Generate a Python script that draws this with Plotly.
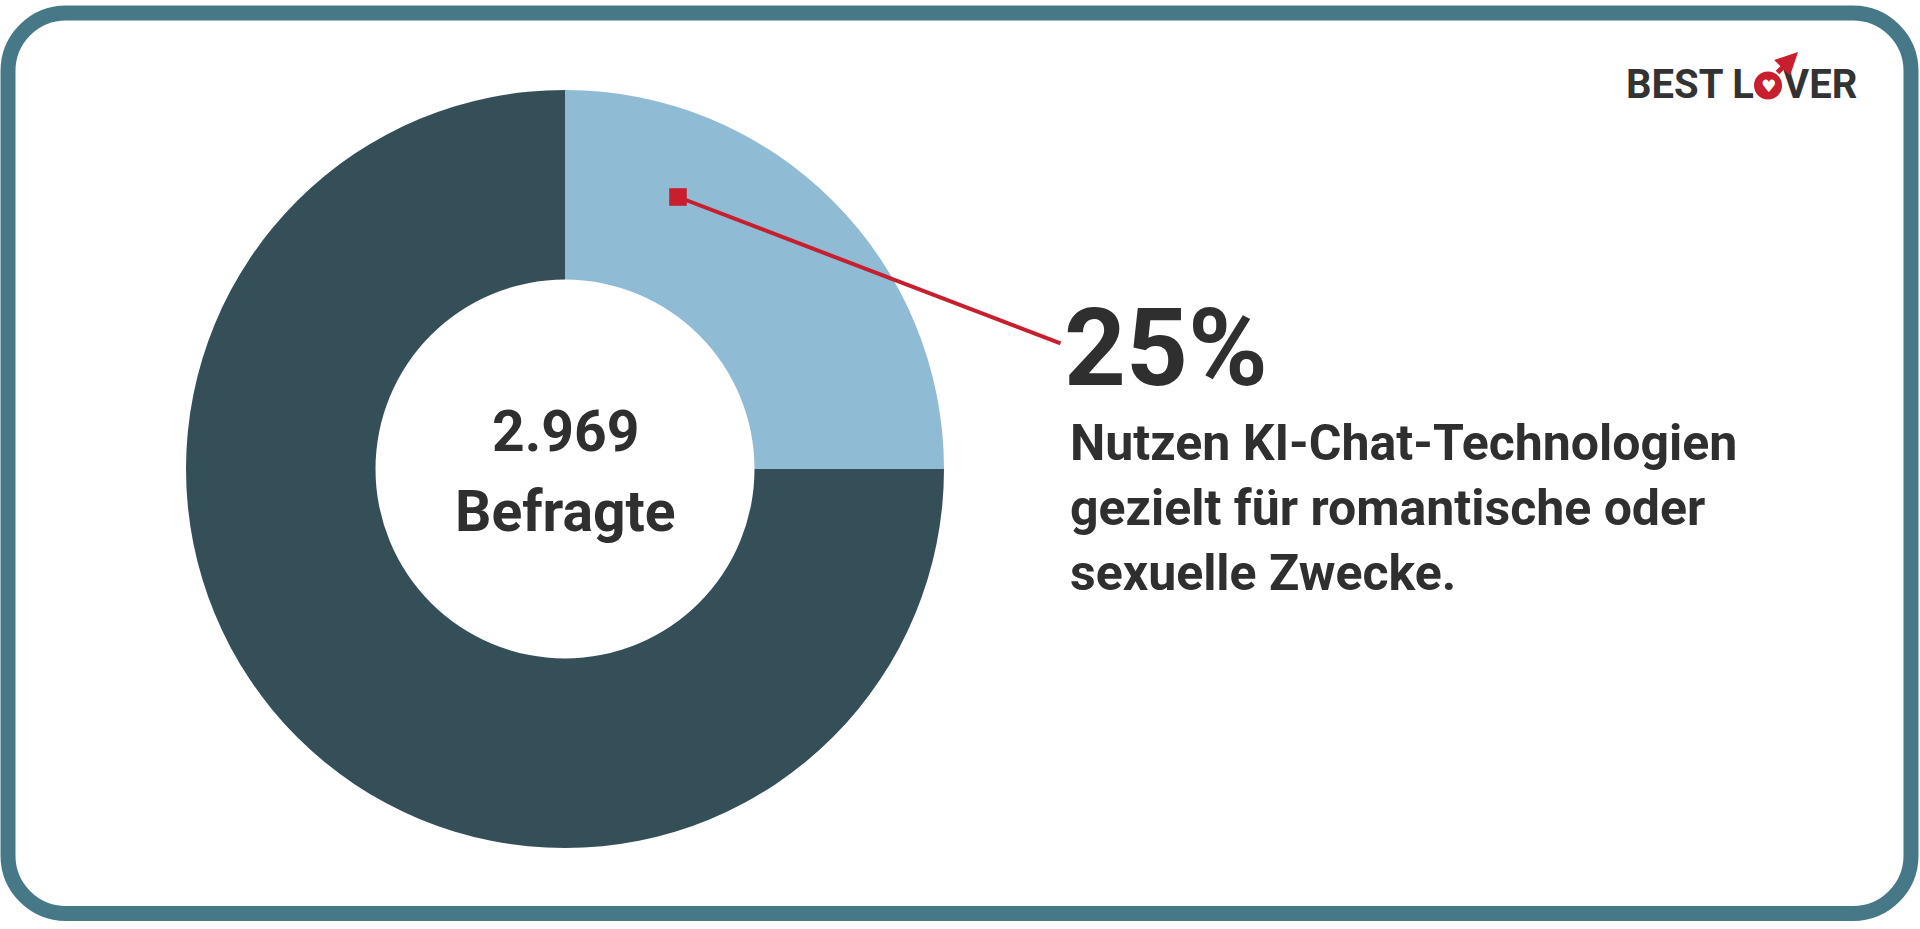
import plotly.graph_objects as go

W, H = 1920, 929

labels = ["Nutzen KI-Chat gezielt für romantische/sexuelle Zwecke", "Andere"]
values = [25, 75]
colors = ["#8fbbd4", "#354f59"]
total_label = "2.969"
total_caption = "Befragte"
big_pct = "25%"
desc_lines = ["Nutzen KI-Chat-Technologien", "gezielt für romantische oder", "sexuelle Zwecke."]

TXT = "#2f2f2f"
RED = "#c71f2e"
BORDER = "#477888"
FONT = "Roboto"


def px(x):
    return x / W


def py(y):
    return 1 - y / H


# pie geometry (pixels)
cx, cy, r = 565, 469, 379

fig = go.Figure()
fig.add_trace(go.Pie(
    labels=labels, values=values, hole=0.5, sort=False, direction="clockwise",
    rotation=0, marker=dict(colors=colors, line=dict(width=0)),
    textinfo="none", hoverinfo="label+percent", showlegend=False,
    domain=dict(x=[px(cx - r), px(cx + r)], y=[py(cy + r), py(cy - r)]),
))

# rounded border
x0, y0, x1, y1, rr = 8, 13, 1911, 913.5, 58
k = 0.5523 * rr


def P(x, y):
    return f"{px(x):.6f},{py(y):.6f}"


path = (
    f"M{P(x0 + rr, y0)} L{P(x1 - rr, y0)} "
    f"C{P(x1 - rr + k, y0)} {P(x1, y0 + rr - k)} {P(x1, y0 + rr)} "
    f"L{P(x1, y1 - rr)} "
    f"C{P(x1, y1 - rr + k)} {P(x1 - rr + k, y1)} {P(x1 - rr, y1)} "
    f"L{P(x0 + rr, y1)} "
    f"C{P(x0 + rr - k, y1)} {P(x0, y1 - rr + k)} {P(x0, y1 - rr)} "
    f"L{P(x0, y0 + rr)} "
    f"C{P(x0, y0 + rr - k)} {P(x0 + rr - k, y0)} {P(x0 + rr, y0)} Z"
)
shapes = [dict(type="path", xref="paper", yref="paper", path=path,
               line=dict(color=BORDER, width=15), fillcolor="rgba(0,0,0,0)")]

# logo ring
lcx, lcy, lr = 1768, 85.5, 14
shapes.append(dict(type="circle", xref="paper", yref="paper",
                   x0=px(lcx - lr), x1=px(lcx + lr), y0=py(lcy + lr), y1=py(lcy - lr),
                   fillcolor=RED, line=dict(width=0)))

annotations = []
# center text
annotations.append(dict(x=px(cx), y=py(431), xref="paper", yref="paper", text=f"<b>{total_label}</b>",
                        showarrow=False, font=dict(family=FONT, size=57, color=TXT),
                        xanchor="center", yanchor="middle"))
annotations.append(dict(x=px(cx), y=py(512), xref="paper", yref="paper", text=f"<b>{total_caption}</b>",
                        showarrow=False, font=dict(family=FONT, size=57, color=TXT),
                        xanchor="center", yanchor="middle"))
# callout line
annotations.append(dict(x=px(678), y=py(197), xref="paper", yref="paper", text="",
                        showarrow=True, ax=384, ay=147, axref="pixel", ayref="pixel",
                        arrowhead=7, arrowsize=1.1, arrowwidth=4, arrowcolor=RED, standoff=0))
# big percentage
annotations.append(dict(x=px(1062), y=py(348), xref="paper", yref="paper", text=f"<b>{big_pct}</b>",
                        showarrow=False, font=dict(family=FONT, size=108, color=TXT),
                        xanchor="left", yanchor="middle"))
# description
annotations.append(dict(x=px(1068), y=py(412), xref="paper", yref="paper",
                        text="<b>" + "<br>".join(desc_lines) + "</b>", align="left",
                        showarrow=False, font=dict(family=FONT, size=50, color=TXT),
                        xanchor="left", yanchor="top"))
# logo
annotations.append(dict(x=px(1756), y=py(84), xref="paper", yref="paper", text="<b>BEST L</b>",
                        showarrow=False, font=dict(family=FONT, size=40, color="#333333"),
                        xanchor="right", yanchor="middle"))
annotations.append(dict(x=px(1781), y=py(84), xref="paper", yref="paper", text="<b>VER</b>",
                        showarrow=False, font=dict(family=FONT, size=40, color="#333333"),
                        xanchor="left", yanchor="middle"))
annotations.append(dict(x=px(lcx), y=py(lcy + 1), xref="paper", yref="paper", text="♥",
                        showarrow=False, font=dict(family="DejaVu Sans", size=17, color="white"),
                        xanchor="center", yanchor="middle"))
annotations.append(dict(x=px(1798), y=py(52), xref="paper", yref="paper", text="",
                        showarrow=True, ax=-22, ay=22, axref="pixel", ayref="pixel",
                        arrowhead=2, arrowsize=0.9, arrowwidth=5, arrowcolor=RED, standoff=0))

fig.update_layout(
    width=W, height=H, margin=dict(l=0, r=0, t=0, b=0),
    paper_bgcolor="white", plot_bgcolor="white",
    shapes=shapes, annotations=annotations,
    font=dict(family=FONT),
)

fig.write_html("out.html", config={"displayModeBar": False},
               post_script="document.body.style.margin='0';document.body.style.overflow='hidden';")
